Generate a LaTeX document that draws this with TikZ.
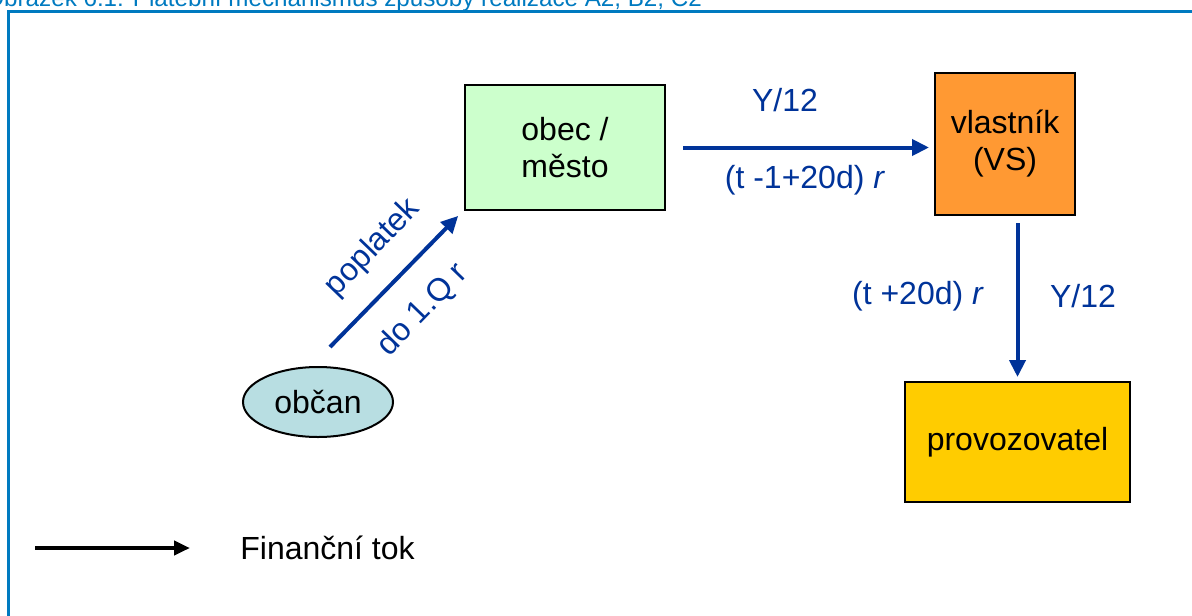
\documentclass[tikz,border=0pt]{standalone}
\usepackage{fontspec}
\setmainfont{Liberation Sans}
\usetikzlibrary{arrows.meta,calc,shapes.geometric}

\definecolor{flowblue}{RGB}{0,51,153}
\definecolor{frameblue}{RGB}{0,122,192}
\definecolor{mintgreen}{RGB}{204,255,204}
\definecolor{ownerorange}{RGB}{255,153,51}
\definecolor{opergold}{RGB}{255,204,0}
\definecolor{citizencyan}{RGB}{184,222,226}

\tikzset{
  mainfont/.style={font=\fontsize{16}{18.5}\selectfont},
  party/.style={draw=black, line width=1pt, align=center, mainfont, inner sep=0pt},
  flow/.style={draw=flowblue, line width=2pt, -{Triangle[length=8.5pt,width=8pt]}},
  flowlabel/.style={text=flowblue, mainfont, inner sep=0pt},
  legendflow/.style={draw=black, line width=2pt, -{Triangle[length=8pt,width=7pt]}},
}

\begin{document}
\begin{tikzpicture}[x=0.5pt,y=-0.5pt]
  \useasboundingbox (0,0) rectangle (1192,615);

  % caption line and frame, cut by the page edge
  \begin{scope}
    \clip (0,0) rectangle (1192,615);
    \node[anchor=base west, text=frameblue, inner sep=0pt,
          font=\fontsize{12.1}{14}\selectfont] (caption) at (-15,7)
      {Obrázek 6.1: Platební mechanismus způsoby realizace A2, B2, C2};
    \draw[frameblue, line width=1.5pt] (8,620) -- (8,12) -- (1200,12);
  \end{scope}

  % parties
  \node[party, fill=mintgreen, minimum width=100pt, minimum height=62.5pt]
    (obec) at (565,147.5) {obec /\\město};
  \node[party, fill=ownerorange, minimum width=70pt, minimum height=71pt]
    (vlastnik) at (1005,144) {vlastník\\(VS)};
  \node[party, fill=opergold, minimum width=112.5pt, minimum height=60pt]
    (provoz) at (1017.5,442) {provozovatel};
  \node[party, ellipse, fill=citizencyan, minimum width=75pt, minimum height=35pt]
    (obcan) at (318,402) {občan};

  % payment flows
  \draw[flow, shorten >=2pt]
    ($(obcan.north)+(12,-19)$) -- ($(obec.south west)+(-3,2)$);
  \draw[flow, shorten <=8.5pt, shorten >=2.5pt]
    (obec.east) -- (obec.east -| vlastnik.west);
  \draw[flow, shorten <=3.5pt, shorten >=2pt]
    (provoz.north |- vlastnik.south) -- (provoz.north);

  % flow labels
  \node[flowlabel, rotate=46] (poplatek) at (373,248) {poplatek};
  \node[flowlabel, rotate=46] (termin1) at (423,310) {do 1.Q r};
  \node[flowlabel] (castka1) at (785,100) {Y/12};
  \node[flowlabel] (termin2) at (805,180) {(t -1+20d) \textit{r}};
  \node[flowlabel] (termin3) at (918,296) {(t +20d) \textit{r}};
  \node[flowlabel] (castka2) at (1083,296) {Y/12};

  % legend
  \coordinate (legstart) at (35,548);
  \coordinate (legend) at (190,548);
  \draw[legendflow] (legstart) -- (legend);
  \node[mainfont, anchor=west, inner sep=0pt] (legtext) at (240,548) {Finanční tok};
\end{tikzpicture}
\end{document}
